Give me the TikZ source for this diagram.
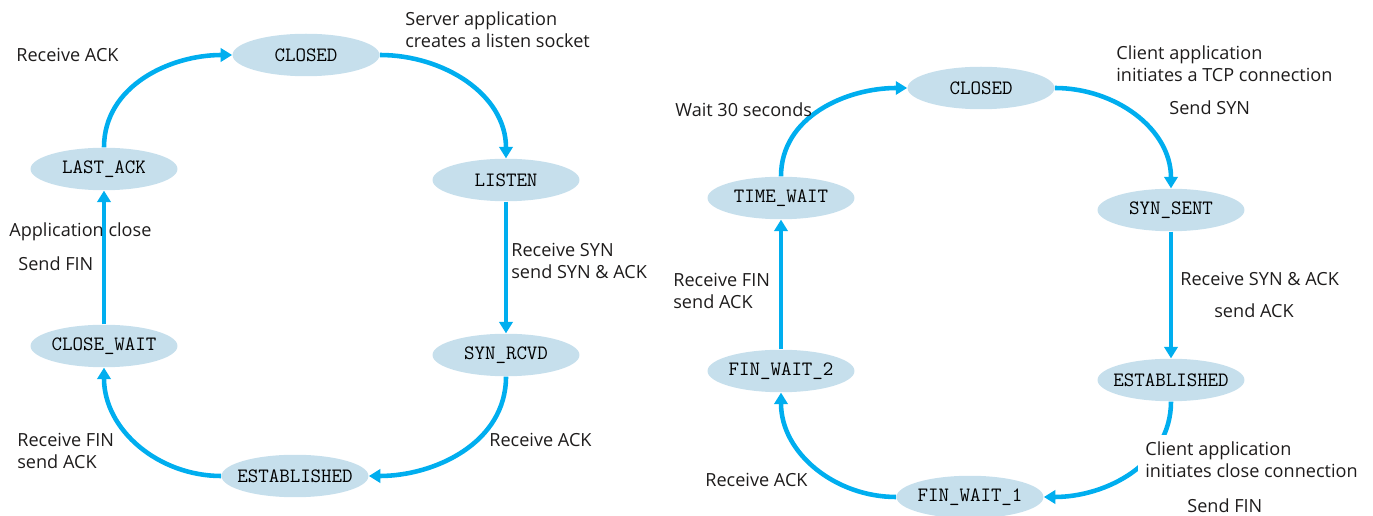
\documentclass[tikz,border=0pt]{standalone}
\usepackage{fontspec}
\setmainfont{Open Sans}
\usetikzlibrary{arrows.meta,shapes.geometric}
\definecolor{statefill}{RGB}{198,223,236}
\definecolor{arrowcyan}{RGB}{0,174,239}
\definecolor{labelgray}{RGB}{30,28,28}

\begin{document}
\begin{tikzpicture}[x=0.02cm,y=-0.02cm,
  state/.style={ellipse,fill=statefill,inner sep=0pt,minimum width=2.94cm,minimum height=0.85cm,
    font=\ttfamily\fontsize{11.6}{12}\selectfont,
    execute at begin node={\hbox to 1.2cm\bgroup\hss},execute at end node={\hss\egroup}},
  trans/.style={arrowcyan,line width=2.6pt,-{Triangle[length=6.5pt,width=7.5pt]}},
  lbl/.style={anchor=west,inner sep=0pt,align=left,text=labelgray,font=\fontsize{10.3}{12.6}\selectfont}]
  \useasboundingbox (0,0) rectangle (1373,516);

  % server side
  \node[state] (sclosed) at (306,55) {CLOSED};
  \node[state] (listen) at (506,180) {LISTEN};
  \node[state] (synrcvd) at (506,355) {SYN\_RCVD};
  \node[state] (sestab) at (295,476) {ESTABLISHED};
  \node[state] (closewait) at (104,346) {CLOSE\_WAIT};
  \node[state] (lastack) at (104,169) {LAST\_ACK};

  \draw[trans] (sclosed.east) to[out=0,in=90] (listen.north);
  \draw[trans] (listen) -- (synrcvd);
  \draw[trans] (synrcvd.south) to[out=-90,in=0] (sestab.east);
  \draw[trans] (sestab.west) to[out=180,in=-90] (closewait.south);
  \draw[trans] (closewait) -- (lastack);
  \draw[trans] (lastack.north) to[out=90,in=180] (sclosed.west);

  \node[lbl] (l1) at (405,30) {Server application\\creates a listen socket};
  \node[lbl] (l2) at (511,261) {Receive SYN\\send SYN \& ACK};
  \node[lbl] (l3) at (489,440) {Receive ACK};
  \node[lbl] (l4) at (17,451) {Receive FIN\\send ACK};
  \node[lbl] (l5) at (9,232) {Application close};
  \node[lbl] (l6) at (18,264) {Send FIN};
  \node[lbl] (l7) at (16,55) {Receive ACK};

  % client side
  \node[state] (cclosed) at (981,88) {CLOSED};
  \node[state] (synsent) at (1171,210) {SYN\_SENT};
  \node[state] (cestab) at (1171,380) {ESTABLISHED};
  \node[state] (finwait1) at (970,497) {FIN\_WAIT\_1};
  \node[state] (finwait2) at (781,371) {FIN\_WAIT\_2};
  \node[state] (timewait) at (781,198) {TIME\_WAIT};

  \draw[trans] (cclosed.east) to[out=0,in=90] (synsent.north);
  \draw[trans] (synsent) -- (cestab);
  \draw[trans] (cestab.south) to[out=-90,in=0] (finwait1.east);
  \draw[trans] (finwait1.west) to[out=180,in=-90] (finwait2.south);
  \draw[trans] (finwait2) -- (timewait);
  \draw[trans] (timewait.north) to[out=90,in=180] (cclosed.west);

  \node[lbl] (r1) at (1116,64) {Client application\\initiates a TCP connection};
  \node[lbl] (r2) at (1169,108) {Send SYN};
  \node[lbl] (r3) at (1180,279) {Receive SYN \& ACK};
  \node[lbl] (r4) at (1214,311) {send ACK};
  \node[lbl,fill=white,inner sep=4pt,xshift=-4pt] (r5) at (1145,460) {Client application\\initiates close connection};
  \node[lbl] (r6) at (1187,506) {Send FIN};
  \node[lbl] (r7) at (705,480) {Receive ACK};
  \node[lbl] (r8) at (673,291) {Receive FIN\\send ACK};
  \node[lbl] (r9) at (675,110) {Wait 30 seconds};
\end{tikzpicture}
\end{document}
